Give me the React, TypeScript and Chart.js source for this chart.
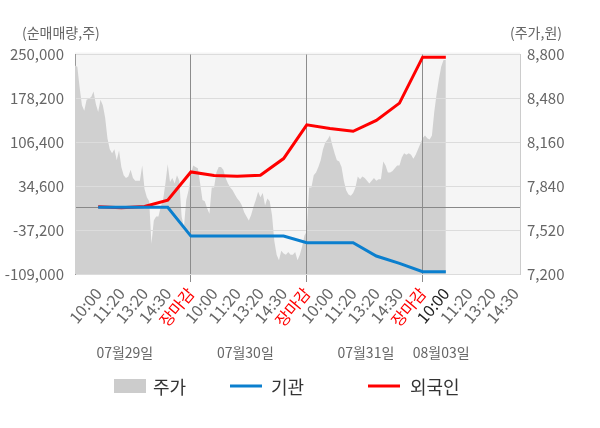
import React, { useEffect, useRef } from 'react';
import { Chart, registerables } from 'chart.js';

Chart.register(...registerables);

const FONT = "'Noto Sans CJK KR', 'Noto Sans', sans-serif";

// x axis: one slot per tick label, prices sampled 10 times per slot
const timeLabels = [
  '10:00', '11:20', '13:20', '14:30', '장마감',
  '10:00', '11:20', '13:20', '14:30', '장마감',
  '10:00', '11:20', '13:20', '14:30', '장마감',
  '10:00', '11:20', '13:20', '14:30',
];
const dayLabels = ['07월29일', '07월30일', '07월31일', '08월03일'];
const leftTicks = [-109000, -37200, 34600, 106400, 178200, 250000];
const rightTicks = [7200, 7520, 7840, 8160, 8480, 8800];

const PRICE_STEPS = 10;
const price = [
  8720, 8710, 8560, 8430, 8390, 8470, 8480, 8490, 8530, 8440,
  8380, 8470, 8430, 8340, 8190, 8110, 8080, 8110, 8030, 8100,
  7980, 7920, 7900, 7910, 7960, 7900, 7880, 7880, 7880, 7990,
  7820, 7760, 7730, 7420, 7590, 7620, 7620, 7690, 7740, 7860,
  8000, 7870, 7900, 7860, 7920, 7880, 7620, 7540, 7740, 7810,
  7930,
  7990, 7980, 7970, 7860, 7740, 7730, 7680, 7640, 7830, 7830,
  7940, 7980, 7980, 7960, 7900, 7860, 7830, 7810, 7780, 7750,
  7730, 7700, 7650, 7620, 7590, 7630, 7690, 7740, 7800, 7760,
  7790, 7700, 7750, 7730, 7630, 7440, 7340, 7300, 7370, 7350,
  7340, 7360, 7340, 7340, 7360, 7300, 7340, 7400, 7480, 7510,
  7830, 7830, 7920, 7940, 7980, 8030, 8110, 8160, 8180, 8210,
  8140, 8080, 8030, 8020, 7980, 7880, 7810, 7780, 7770, 7790,
  7830, 7910, 7890, 7910, 7900, 7880, 7860, 7880, 7900, 7880,
  7890, 7890, 8020, 7990, 7940, 7940, 7950, 7970, 7990, 7990,
  8050, 8080, 8070, 8080, 8070, 8040, 8070, 8110, 8150, 8190,
  8210, 8190, 8180, 8210, 8380, 8510, 8620, 8710, 8760, 8760,
];

// cumulative net buying, one value per label from the first 10:00
const institution = [
  0, 0, 0, 0, -47000, -47000, -47000, -47000, -47000, -57900,
  -57900, -57900, -79600, -91600, -105300, -105300,
];
const foreign = [
  800, -800, 1500, 11700, 57900, 52000, 50900, 52500, 79800, 135000,
  128800, 124400, 142300, 170500, 245600, 245600,
];

const fmt = (v: number) => v.toLocaleString('en-US');

const decorPlugin = {
  id: 'decor',
  beforeDraw(chart: any) {
    const { ctx, chartArea: a } = chart;
    ctx.save();
    ctx.fillStyle = '#f5f5f5';
    ctx.fillRect(a.left, a.top - 2, a.right - a.left, a.bottom - a.top + 2);
    ctx.restore();
  },
  afterDatasetDraw(chart: any, args: any) {
    // grid shows through the price area
    if (args.index !== 0) return;
    chart.scales.yL.drawGrid(chart.chartArea);
    chart.scales.x.drawGrid(chart.chartArea);
  },
  afterDraw(chart: any) {
    const { ctx, scales } = chart;
    ctx.save();
    ctx.font = `14px ${FONT}`;
    ctx.fillStyle = '#666';
    ctx.textBaseline = 'middle';
    ctx.textAlign = 'left';
    ctx.fillText('(순매매량,주)', 22, 33);
    ctx.textAlign = 'right';
    ctx.fillText('(주가,원)', 562, 33);

    const daySlots = [2.15, 7.35, 12.55, 15.8];
    ctx.textAlign = 'center';
    dayLabels.forEach((d, i) => {
      ctx.fillText(d, scales.x.getPixelForValue(daySlots[i]), 353);
    });

    // legend
    ctx.font = `18px ${FONT}`;
    ctx.textAlign = 'left';
    ctx.fillStyle = '#cccccc';
    ctx.fillRect(114, 379, 32, 14);
    ctx.lineWidth = 3;
    ctx.strokeStyle = '#0b7fce';
    ctx.beginPath();
    ctx.moveTo(230, 386);
    ctx.lineTo(262, 386);
    ctx.stroke();
    ctx.strokeStyle = '#ff0000';
    ctx.beginPath();
    ctx.moveTo(368, 386);
    ctx.lineTo(400, 386);
    ctx.stroke();
    ctx.fillStyle = '#333';
    ctx.fillText('주가', 153, 387);
    ctx.fillText('기관', 271, 387);
    ctx.fillText('외국인', 410, 387);
    ctx.restore();
  },
};

const App: React.FC = () => {
  const canvasRef = useRef<HTMLCanvasElement>(null);
  const chartRef = useRef<Chart>();

  useEffect(() => {
    if (!canvasRef.current) return;
    Chart.defaults.font.family = FONT;

    chartRef.current = new Chart(canvasRef.current, {
      type: 'line',
      data: {
        datasets: [
          {
            label: '주가',
            data: price.map((p, i) => ({ x: i / PRICE_STEPS, y: p })),
            yAxisID: 'yR',
            borderWidth: 0,
            backgroundColor: '#d0d0d0',
            fill: 'start',
            pointRadius: 0,
            order: 2,
          },
          {
            label: '외국인',
            data: foreign.map((v, i) => ({ x: i + 1, y: v })),
            yAxisID: 'yL',
            borderColor: '#ff0000',
            borderWidth: 3,
            pointRadius: 0,
            fill: false,
            order: 1,
          },
          {
            label: '기관',
            data: institution.map((v, i) => ({ x: i + 1, y: v })),
            yAxisID: 'yL',
            borderColor: '#0b7fce',
            borderWidth: 3,
            pointRadius: 0,
            fill: false,
            order: 0,
          },
        ],
      },
      options: {
        responsive: false,
        animation: false,
        layout: { padding: { top: 54.5, left: 0, right: 0, bottom: 0 } },
        plugins: { legend: { display: false }, tooltip: { enabled: false } },
        scales: {
          x: {
            type: 'linear',
            min: 0,
            max: 19.2,
            afterBuildTicks: (s: any) => {
              s.ticks = timeLabels.map((_, i) => ({ value: i + 1 }));
            },
            afterFit: (s: any) => {
              s.height = 154;
            },
            ticks: {
              autoSkip: false,
              minRotation: 50,
              maxRotation: 50,
              padding: 2,
              font: { size: 16 },
              color: (c: any) =>
                c.index % 5 === 4 ? '#ff0000' : c.index === 15 ? '#222' : '#666',
              callback: (v: any) => timeLabels[v - 1] ?? '',
            },
            grid: {
              color: (c: any) => (c.tick && c.tick.value % 5 === 0 ? '#8c8c8c' : 'rgba(0,0,0,0)'),
              tickLength: 8,
            },
            border: { color: '#999' },
          },
          yL: {
            type: 'linear',
            position: 'left',
            min: leftTicks[0],
            max: leftTicks[leftTicks.length - 1],
            afterBuildTicks: (s: any) => {
              s.ticks = [...leftTicks, 0].sort((a, b) => a - b).map((v) => ({ value: v }));
            },
            afterFit: (s: any) => {
              s.width = 75;
            },
            ticks: {
              padding: 11,
              color: '#666',
              font: { size: 15 },
              callback: (v: any) => (v === 0 ? '' : fmt(v)),
            },
            grid: {
              drawTicks: false,
              color: (c: any) => (c.tick && c.tick.value === 0 ? '#888' : '#dcdcdc'),
            },
            border: { color: '#999' },
          },
          yR: {
            type: 'linear',
            position: 'right',
            min: rightTicks[0],
            max: rightTicks[rightTicks.length - 1],
            afterBuildTicks: (s: any) => {
              s.ticks = rightTicks.map((v) => ({ value: v }));
            },
            afterFit: (s: any) => {
              s.width = 80;
            },
            ticks: {
              padding: 7,
              color: '#666',
              font: { size: 15 },
              callback: (v: any) => fmt(v),
            },
            grid: { display: false, drawTicks: false },
            border: { color: '#ccc' },
          },
        },
      },
      plugins: [decorPlugin],
    });

    return () => {
      if (chartRef.current) {
        chartRef.current.destroy();
      }
    };
  }, []);

  return (
    <div style={{ position: 'fixed', left: 0, top: 0, width: 600, height: 428, background: '#fff' }}>
      <canvas ref={canvasRef} width={600} height={428} />
    </div>
  );
};

export default App;
